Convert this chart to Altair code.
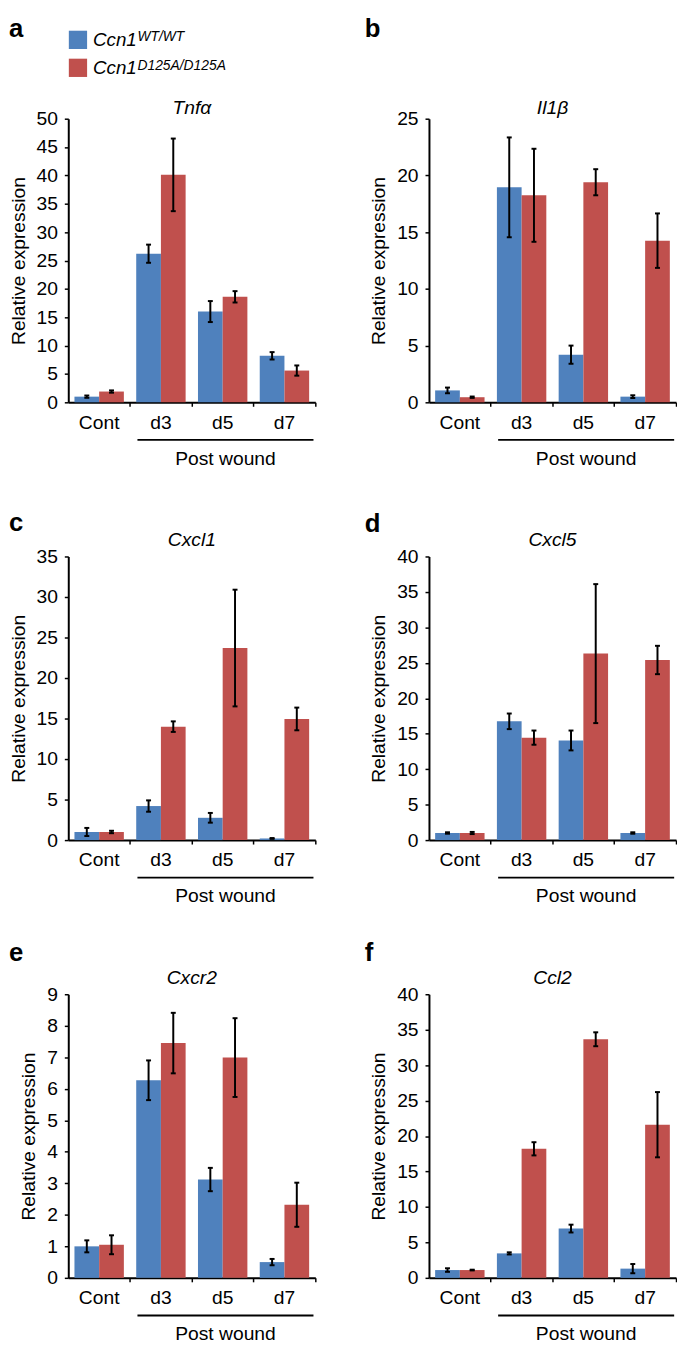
import altair as alt
import pandas as pd

FONT = "Liberation Sans"

categories = ["Cont", "d3", "d5", "d7"]
genotypes = ["WT/WT", "D125A/D125A"]
genotype_colors = ["#4F81BD", "#C0504D"]

panel_letters = ["a", "b", "c", "d", "e", "f"]
gene_names = ["Tnfα", "Il1β", "Cxcl1", "Cxcl5", "Cxcr2", "Ccl2"]
y_max = [50, 25, 35, 40, 9, 40]
y_step = [5, 5, 5, 5, 1, 5]

# mean and error half-width per category (Cont, d3, d5, d7)
tnfa_wt = [1.0, 26.2, 16.0, 8.2]
tnfa_wt_err = [0.2, 1.6, 1.85, 0.65]
tnfa_mut = [1.9, 40.1, 18.6, 5.6]
tnfa_mut_err = [0.2, 6.4, 1.0, 0.9]

il1b_wt = [1.05, 18.95, 4.2, 0.5]
il1b_wt_err = [0.25, 4.4, 0.8, 0.12]
il1b_mut = [0.45, 18.25, 19.4, 14.25]
il1b_mut_err = [0.06, 4.1, 1.15, 2.4]

cxcl1_wt = [1.0, 4.2, 2.75, 0.2]
cxcl1_wt_err = [0.5, 0.7, 0.6, 0.05]
cxcl1_mut = [1.0, 14.0, 23.7, 14.95]
cxcl1_mut_err = [0.15, 0.65, 7.2, 1.4]

cxcl5_wt = [1.0, 16.75, 14.05, 1.0]
cxcl5_wt_err = [0.1, 1.1, 1.4, 0.1]
cxcl5_mut = [1.0, 14.45, 26.3, 25.4]
cxcl5_mut_err = [0.15, 1.0, 9.8, 2.0]

cxcr2_wt = [1.0, 6.27, 3.12, 0.5]
cxcr2_wt_err = [0.19, 0.63, 0.37, 0.1]
cxcr2_mut = [1.05, 7.45, 6.99, 2.32]
cxcr2_mut_err = [0.3, 0.96, 1.25, 0.7]

ccl2_wt = [1.1, 3.45, 6.95, 1.3]
ccl2_wt_err = [0.25, 0.15, 0.55, 0.65]
ccl2_mut = [1.1, 18.2, 33.65, 21.6]
ccl2_mut_err = [0.05, 0.93, 0.98, 4.6]

panel_data = [
    (tnfa_wt, tnfa_wt_err, tnfa_mut, tnfa_mut_err),
    (il1b_wt, il1b_wt_err, il1b_mut, il1b_mut_err),
    (cxcl1_wt, cxcl1_wt_err, cxcl1_mut, cxcl1_mut_err),
    (cxcl5_wt, cxcl5_wt_err, cxcl5_mut, cxcl5_mut_err),
    (cxcr2_wt, cxcr2_wt_err, cxcr2_mut, cxcr2_mut_err),
    (ccl2_wt, ccl2_wt_err, ccl2_mut, ccl2_mut_err),
]

W, H = 250, 287
letter_x = [-60, -65, -60, -65, -60, -65]
letter_y = [-83, -83, -26, -25, -34, -34]
title_offsets = [4.5, 4.5, 11, 10.5, 10, 10]

legend_sq_y = [-79.8, -51.5]
legend_txt_y = [-73.5, -44.8]
legend_sup_y = [-78.2, -49.8]


def make_panel(i, legend=False):
    wt, wt_err, mut, mut_err = panel_data[i]
    rows = []
    for g, means, errs in ((genotypes[0], wt, wt_err), (genotypes[1], mut, mut_err)):
        for c, m, e in zip(categories, means, errs):
            rows.append({"cat": c, "geno": g, "mean": m, "lo": m - e, "hi": m + e})
    df = pd.DataFrame(rows)

    xscale = alt.Scale(domain=categories, paddingInner=0, paddingOuter=0)
    xaxis = alt.Axis(title=None, labelAngle=0, bandPosition=1, labelPadding=7, tickSize=4)
    x = alt.X("cat:N", scale=xscale, axis=xaxis)
    xo = alt.XOffset("geno:N", scale=alt.Scale(domain=genotypes, paddingInner=0, paddingOuter=0.25))
    yscale = alt.Scale(domain=[0, y_max[i]], nice=False, zero=True)
    yaxis = alt.Axis(values=list(range(0, y_max[i] + 1, y_step[i])), title="Relative expression",
                     titlePadding=8, labelPadding=7, tickSize=4)
    color = alt.Color("geno:N", scale=alt.Scale(domain=genotypes, range=genotype_colors), legend=None)

    base = alt.Chart(df)
    bars = base.mark_bar().encode(x=x, xOffset=xo, y=alt.Y("mean:Q", scale=yscale, axis=yaxis), color=color)
    err = base.mark_rule(color="black", strokeWidth=2).encode(
        x=x, xOffset=xo, y=alt.Y("lo:Q", scale=yscale, axis=yaxis), y2="hi:Q")
    cap_lo = base.mark_tick(color="black", size=5, thickness=2, opacity=1).encode(
        x=x, xOffset=xo, y=alt.Y("lo:Q", scale=yscale, axis=yaxis))
    cap_hi = base.mark_tick(color="black", size=5, thickness=2, opacity=1).encode(
        x=x, xOffset=xo, y=alt.Y("hi:Q", scale=yscale, axis=yaxis))

    bracket_df = pd.DataFrame({"cat": ["d3"], "cat_end": ["d7"]})
    bracket = alt.Chart(bracket_df).mark_rule(color="black", strokeWidth=2).encode(
        x=alt.X("cat:N", scale=xscale, axis=xaxis, bandPosition=0.12),
        x2=alt.X2("cat_end:N", bandPosition=0.97),
        y=alt.value(H + 38))

    wound_df = pd.DataFrame({"cat": ["d5"], "label": ["Post wound"]})
    wound = alt.Chart(wound_df).mark_text(font=FONT, fontSize=19.5, baseline="middle", align="center",
                                          color="black").encode(
        x=alt.X("cat:N", scale=xscale, axis=xaxis, bandPosition=0.545),
        y=alt.value(H + 57), text="label:N")

    letter = alt.Chart(pd.DataFrame({"t": [panel_letters[i]]})).mark_text(
        font=FONT, fontSize=26, fontWeight="bold", align="left", baseline="alphabetic", color="black"
    ).encode(x=alt.value(letter_x[i]), y=alt.value(letter_y[i]), text="t:N")

    gene = alt.Chart(pd.DataFrame({"g": [gene_names[i]]})).mark_text(
        font=FONT, fontSize=19.5, fontStyle="italic", align="center", baseline="alphabetic", color="black"
    ).encode(x=alt.value(W / 2), y=alt.value(-title_offsets[i]), text="g:N")

    layers = [bars, err, cap_lo, cap_hi, bracket, wound, letter, gene]

    if legend:
        for j, g in enumerate(genotypes):
            ldf = pd.DataFrame({"geno": [g], "name": ["Ccn1"], "sup": [g]})
            sq = alt.Chart(ldf).mark_square(size=342, opacity=1).encode(
                x=alt.value(9.8), y=alt.value(legend_sq_y[j]), color=color)
            nm = alt.Chart(ldf).mark_text(font=FONT, fontSize=19, fontStyle="italic", align="left",
                                          baseline="alphabetic", color="black").encode(
                x=alt.value(25), y=alt.value(legend_txt_y[j]), text="name:N")
            sp = alt.Chart(ldf).mark_text(font=FONT, fontSize=14, fontStyle="italic", align="left",
                                          baseline="alphabetic", color="black").encode(
                x=alt.value(70), y=alt.value(legend_sup_y[j]), text="sup:N")
            layers += [sq, nm, sp]

    return alt.layer(*layers).properties(width=W, height=H)


panels = [make_panel(i, legend=(i == 0)) for i in range(6)]

chart = alt.concat(
    *panels, columns=2, spacing={"row": 156, "column": 115}, bounds="flush"
).properties(padding=0).configure_view(stroke=None).configure_axis(
    domainColor="black", domainWidth=2, tickColor="black", tickWidth=1.5,
    labelFont=FONT, labelFontSize=19.5, labelColor="black",
    titleFont=FONT, titleFontSize=19.5, titleFontWeight="normal", titleColor="black",
    grid=False,
)

chart.save("out.html", embed_options={"renderer": "svg", "actions": False})
